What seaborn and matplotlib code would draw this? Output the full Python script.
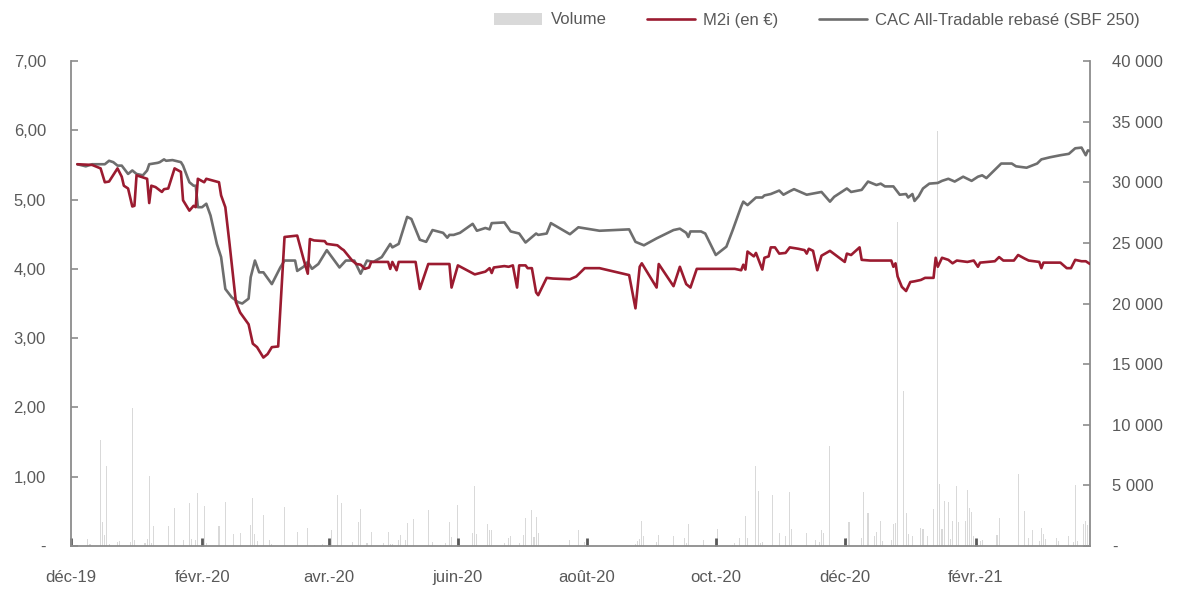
import matplotlib
matplotlib.use('Agg')
import matplotlib.pyplot as plt
from matplotlib.lines import Line2D
from matplotlib.patches import Patch
from matplotlib import font_manager
import pandas as pd
import seaborn as sns

# ---------------- data ----------------
m2i_dates = [
    "2019-12-04", "2019-12-11", "2019-12-15", "2019-12-17", "2019-12-19", "2019-12-23", "2019-12-25",
    "2019-12-26", "2019-12-28", "2019-12-30", "2019-12-31", "2020-01-01", "2020-01-03", "2020-01-06",
    "2020-01-07", "2020-01-08", "2020-01-10", "2020-01-13", "2020-01-14", "2020-01-16", "2020-01-19",
    "2020-01-22", "2020-01-23", "2020-01-26", "2020-01-28", "2020-01-29", "2020-01-30", "2020-02-02",
    "2020-02-03", "2020-02-09", "2020-02-10", "2020-02-12", "2020-02-14", "2020-02-17", "2020-02-19",
    "2020-02-23", "2020-02-25", "2020-02-27", "2020-03-01", "2020-03-03", "2020-03-05", "2020-03-08",
    "2020-03-10", "2020-03-11", "2020-03-17", "2020-03-20", "2020-03-22", "2020-03-23", "2020-03-25",
    "2020-03-30", "2020-03-31", "2020-04-05", "2020-04-07", "2020-04-08", "2020-04-12", "2020-04-14",
    "2020-04-16", "2020-04-18", "2020-04-20", "2020-04-21", "2020-04-29", "2020-04-30", "2020-05-01",
    "2020-05-03", "2020-05-04", "2020-05-12", "2020-05-14", "2020-05-18", "2020-05-28", "2020-05-29",
    "2020-06-01", "2020-06-09", "2020-06-14", "2020-06-16", "2020-06-17", "2020-06-18", "2020-06-23",
    "2020-06-25", "2020-06-27", "2020-06-29", "2020-06-30", "2020-07-03", "2020-07-04", "2020-07-06",
    "2020-07-08", "2020-07-09", "2020-07-13", "2020-07-16", "2020-07-24", "2020-07-27", "2020-07-31",
    "2020-08-07", "2020-08-21", "2020-08-24", "2020-08-26", "2020-08-27", "2020-09-03", "2020-09-04",
    "2020-09-11", "2020-09-14", "2020-09-17", "2020-09-19", "2020-09-22", "2020-10-10", "2020-10-13",
    "2020-10-14", "2020-10-15", "2020-10-16", "2020-10-19", "2020-10-20", "2020-10-23", "2020-10-24",
    "2020-10-26", "2020-10-27", "2020-10-29", "2020-10-31", "2020-11-03", "2020-11-05", "2020-11-09",
    "2020-11-12", "2020-11-13", "2020-11-14", "2020-11-16", "2020-11-18", "2020-11-20", "2020-11-24",
    "2020-12-01", "2020-12-02", "2020-12-04", "2020-12-08", "2020-12-09", "2020-12-13", "2020-12-23",
    "2020-12-24", "2020-12-25", "2020-12-26", "2020-12-28", "2020-12-30", "2021-01-01", "2021-01-03",
    "2021-01-06", "2021-01-08", "2021-01-12", "2021-01-13", "2021-01-14", "2021-01-16", "2021-01-19",
    "2021-01-21", "2021-01-23", "2021-01-28", "2021-01-31", "2021-02-02", "2021-02-03", "2021-02-10",
    "2021-02-12", "2021-02-14", "2021-02-19", "2021-02-21", "2021-02-24", "2021-02-26", "2021-03-03",
    "2021-03-04", "2021-03-05", "2021-03-13", "2021-03-16", "2021-03-18", "2021-03-20", "2021-03-23",
    "2021-03-25", "2021-03-27",
]
m2i_values = [
    5.51, 5.50, 5.45, 5.25, 5.26, 5.45, 5.33,
    5.20, 5.16, 4.90, 4.91, 5.35, 5.33, 5.30,
    4.95, 5.20, 5.18, 5.11, 5.15, 5.16, 5.45,
    5.40, 4.99, 4.84, 4.91, 4.89, 5.30, 5.25,
    5.30, 5.25, 5.06, 4.89, 4.36, 3.52, 3.37,
    3.20, 2.92, 2.87, 2.72, 2.77, 2.87, 2.88,
    3.93, 4.46, 4.48, 4.14, 3.93, 4.43, 4.41,
    4.40, 4.36, 4.34, 4.29, 4.27, 4.12, 4.07,
    4.06, 4.00, 4.02, 4.10, 4.10, 4.00, 4.10,
    3.98, 4.10, 4.10, 3.71, 4.07, 4.07, 3.73,
    4.05, 3.92, 3.96, 4.01, 3.94, 4.02, 4.04,
    4.03, 4.05, 3.73, 4.05, 4.05, 4.01, 4.01,
    3.66, 3.62, 3.87, 3.86, 3.85, 3.89, 4.01,
    4.01, 3.91, 3.43, 4.03, 4.08, 3.73, 4.07,
    3.75, 4.03, 3.78, 3.73, 4.00, 4.00, 3.98,
    4.06, 3.99, 4.25, 4.18, 4.23, 3.99, 4.16,
    4.18, 4.31, 4.31, 4.22, 4.23, 4.31, 4.29,
    4.27, 4.22, 4.29, 4.26, 3.98, 4.19, 4.26,
    4.10, 4.22, 4.20, 4.31, 4.13, 4.12, 4.12,
    4.03, 4.08, 3.89, 3.74, 3.68, 3.81, 3.82,
    3.84, 3.87, 3.87, 4.16, 4.03, 4.16, 4.13,
    4.08, 4.12, 4.10, 4.12, 4.03, 4.09, 4.11,
    4.17, 4.12, 4.12, 4.20, 4.15, 4.12, 4.10,
    4.01, 4.09, 4.09, 4.01, 4.01, 4.13, 4.11,
    4.11, 4.07,
]

cac_dates = [
    "2019-12-04", "2019-12-08", "2019-12-11", "2019-12-17", "2019-12-19", "2019-12-21", "2019-12-23",
    "2019-12-25", "2019-12-28", "2019-12-30", "2020-01-01", "2020-01-04", "2020-01-06", "2020-01-07",
    "2020-01-11", "2020-01-12", "2020-01-14", "2020-01-15", "2020-01-18", "2020-01-22", "2020-01-23",
    "2020-01-26", "2020-01-28", "2020-01-29", "2020-01-30", "2020-02-01", "2020-02-03", "2020-02-05",
    "2020-02-08", "2020-02-10", "2020-02-12", "2020-02-15", "2020-02-18", "2020-02-20", "2020-02-23",
    "2020-02-24", "2020-02-26", "2020-02-28", "2020-03-01", "2020-03-05", "2020-03-09", "2020-03-11",
    "2020-03-16", "2020-03-17", "2020-03-20", "2020-03-22", "2020-03-24", "2020-03-27", "2020-03-31",
    "2020-04-06", "2020-04-09", "2020-04-13", "2020-04-16", "2020-04-19", "2020-04-22", "2020-04-26",
    "2020-04-30", "2020-05-01", "2020-05-04", "2020-05-08", "2020-05-10", "2020-05-14", "2020-05-17",
    "2020-05-20", "2020-05-25", "2020-05-27", "2020-05-28", "2020-05-30", "2020-06-02", "2020-06-08",
    "2020-06-10", "2020-06-14", "2020-06-16", "2020-06-17", "2020-06-23", "2020-06-26", "2020-06-30",
    "2020-07-03", "2020-07-08", "2020-07-09", "2020-07-13", "2020-07-15", "2020-07-24", "2020-07-28",
    "2020-08-07", "2020-08-21", "2020-08-24", "2020-08-28", "2020-09-03", "2020-09-11", "2020-09-14",
    "2020-09-17", "2020-09-18", "2020-09-19", "2020-09-24", "2020-09-26", "2020-10-01", "2020-10-06",
    "2020-10-09", "2020-10-13", "2020-10-14", "2020-10-16", "2020-10-20", "2020-10-23", "2020-10-24",
    "2020-10-27", "2020-10-31", "2020-11-02", "2020-11-05", "2020-11-07", "2020-11-13", "2020-11-20",
    "2020-11-24", "2020-11-26", "2020-12-02", "2020-12-04", "2020-12-09", "2020-12-12", "2020-12-16",
    "2020-12-18", "2020-12-20", "2020-12-24", "2020-12-27", "2020-12-30", "2020-12-31", "2021-01-02",
    "2021-01-03", "2021-01-05", "2021-01-07", "2021-01-10", "2021-01-14", "2021-01-16", "2021-01-19",
    "2021-01-22", "2021-01-26", "2021-01-30", "2021-02-02", "2021-02-04", "2021-02-06", "2021-02-10",
    "2021-02-13", "2021-02-18", "2021-02-20", "2021-02-25", "2021-03-02", "2021-03-04", "2021-03-08",
    "2021-03-13", "2021-03-17", "2021-03-20", "2021-03-23", "2021-03-25", "2021-03-26", "2021-03-27",
]
cac_values = [
    5.51, 5.48, 5.51, 5.51, 5.56, 5.54, 5.49,
    5.49, 5.37, 5.42, 5.37, 5.35, 5.42, 5.51,
    5.53, 5.54, 5.58, 5.56, 5.57, 5.54, 5.49,
    5.25, 5.20, 5.20, 4.89, 4.89, 4.94, 4.77,
    4.36, 4.17, 3.71, 3.59, 3.52, 3.50, 3.57,
    3.88, 4.12, 3.95, 3.95, 3.78, 4.02, 4.12,
    4.12, 3.97, 4.03, 4.10, 4.00, 4.07, 4.27,
    4.02, 4.12, 4.12, 3.93, 4.12, 4.10, 4.17,
    4.36, 4.31, 4.36, 4.75, 4.72, 4.42, 4.39,
    4.56, 4.52, 4.45, 4.49, 4.49, 4.52, 4.65,
    4.55, 4.59, 4.57, 4.66, 4.67, 4.54, 4.51,
    4.38, 4.51, 4.49, 4.51, 4.66, 4.50, 4.60,
    4.55, 4.57, 4.39, 4.34, 4.44, 4.56, 4.58,
    4.52, 4.46, 4.54, 4.54, 4.51, 4.20, 4.32,
    4.56, 4.90, 4.97, 4.92, 5.03, 5.03, 5.06,
    5.08, 5.13, 5.07, 5.12, 5.15, 5.07, 5.11,
    4.97, 5.04, 5.16, 5.11, 5.14, 5.26, 5.21,
    5.23, 5.19, 5.19, 5.07, 5.08, 5.03, 5.08,
    4.98, 5.05, 5.16, 5.23, 5.24, 5.27, 5.30,
    5.26, 5.33, 5.27, 5.33, 5.35, 5.31, 5.43,
    5.52, 5.52, 5.48, 5.46, 5.52, 5.58, 5.61,
    5.64, 5.66, 5.74, 5.75, 5.64, 5.71, 5.70,
]

vol_dates = [
    "2019-12-09", "2019-12-10", "2019-12-15", "2019-12-16", "2019-12-17", "2019-12-18", "2019-12-19",
    "2019-12-23", "2019-12-24", "2019-12-29", "2019-12-30", "2019-12-31", "2020-01-05", "2020-01-06",
    "2020-01-07", "2020-01-08", "2020-01-09", "2020-01-16", "2020-01-19", "2020-01-23", "2020-01-26",
    "2020-01-27", "2020-01-29", "2020-01-30", "2020-02-02", "2020-02-03", "2020-02-09", "2020-02-12",
    "2020-02-16", "2020-02-19", "2020-02-24", "2020-02-25", "2020-02-26", "2020-02-27", "2020-03-01",
    "2020-03-04", "2020-03-05", "2020-03-11", "2020-03-17", "2020-03-22", "2020-03-25", "2020-03-29",
    "2020-04-02", "2020-04-05", "2020-04-07", "2020-04-12", "2020-04-15", "2020-04-16", "2020-04-19",
    "2020-04-21", "2020-04-27", "2020-04-29", "2020-04-30", "2020-05-01", "2020-05-04", "2020-05-05",
    "2020-05-07", "2020-05-08", "2020-05-11", "2020-05-18", "2020-05-20", "2020-05-24", "2020-05-26",
    "2020-05-28", "2020-05-29", "2020-06-01", "2020-06-08", "2020-06-09", "2020-06-10", "2020-06-15",
    "2020-06-16", "2020-06-17", "2020-06-23", "2020-06-25", "2020-06-26", "2020-06-30", "2020-07-02",
    "2020-07-03", "2020-07-06", "2020-07-07", "2020-07-08", "2020-07-09", "2020-07-14", "2020-07-19",
    "2020-07-24", "2020-07-28", "2020-07-31", "2020-08-24", "2020-08-25", "2020-08-26", "2020-08-27",
    "2020-08-28", "2020-09-03", "2020-09-04", "2020-09-11", "2020-09-16", "2020-09-17", "2020-09-18",
    "2020-09-25", "2020-10-02", "2020-10-09", "2020-10-10", "2020-10-12", "2020-10-15", "2020-10-16",
    "2020-10-20", "2020-10-21", "2020-10-22", "2020-10-23", "2020-10-28", "2020-10-31", "2020-11-03",
    "2020-11-05", "2020-11-06", "2020-11-13", "2020-11-17", "2020-11-19", "2020-11-20", "2020-11-21",
    "2020-11-24", "2020-12-01", "2020-12-02", "2020-12-03", "2020-12-09", "2020-12-10", "2020-12-12",
    "2020-12-15", "2020-12-16", "2020-12-18", "2020-12-19", "2020-12-23", "2020-12-24", "2020-12-25",
    "2020-12-26", "2020-12-29", "2020-12-30", "2020-12-31", "2021-01-02", "2021-01-06", "2021-01-07",
    "2021-01-09", "2021-01-12", "2021-01-14", "2021-01-15", "2021-01-16", "2021-01-17", "2021-01-19",
    "2021-01-20", "2021-01-21", "2021-01-23", "2021-01-24", "2021-01-27", "2021-01-28", "2021-01-29",
    "2021-01-30", "2021-01-31", "2021-02-02", "2021-02-03", "2021-02-04", "2021-02-11", "2021-02-12",
    "2021-02-21", "2021-02-24", "2021-02-26", "2021-02-28", "2021-03-03", "2021-03-04", "2021-03-05",
    "2021-03-06", "2021-03-11", "2021-03-12", "2021-03-17", "2021-03-19", "2021-03-20", "2021-03-21",
    "2021-03-24", "2021-03-25", "2021-03-26", "2021-03-27",
]
vol_values = [
    550, 150, 8740, 1980, 880, 6600, 150,
    360, 385, 330, 11380, 495, 275, 550,
    5770, 250, 1650, 1650, 3130, 495, 3550,
    550, 495, 4340, 3270, 250, 1650, 3630,
    960, 1045, 1760, 3960, 1020, 410, 2560,
    495, 180, 3220, 1180, 1480, 100, 150,
    1290, 4200, 3550, 360, 1980, 3050, 250,
    1150, 250, 1180, 200, 150, 495, 905,
    495, 1920, 2230, 2940, 360, 100, 220,
    1980, 740, 3380, 1070, 4950, 990, 1790,
    1320, 1290, 250, 690, 800, 250, 935,
    2280, 2970, 740, 2360, 1070, 100, 100,
    495, 1350, 330, 165, 385, 550, 2060,
    825, 360, 905, 825, 660, 250, 1840,
    495, 1375, 110, 220, 690, 2470, 660,
    6600, 4540, 275, 360, 4230, 1045, 825,
    4430, 1430, 1070, 470, 330, 1320, 1100,
    8250, 275, 690, 1980, 690, 4480, 2760,
    830, 1160, 2080, 400, 500, 1800, 1860,
    26700, 12750, 2720, 970, 830, 1520, 1440,
    830, 3050, 34200, 5130, 1440, 3740, 3660,
    600, 2080, 4930, 2000, 2080, 4650, 3100,
    2770, 830, 220, 400, 500, 910, 2300,
    5960, 2910, 700, 1330, 400, 1520, 970,
    550, 700, 400, 830, 300, 4990, 400,
    1800, 2080, 1720, 250,
]

x_tick_dates = ["2019-12-01", "2020-02-01", "2020-04-01", "2020-06-01",
                "2020-08-01", "2020-10-01", "2020-12-01", "2021-02-01"]
x_tick_labels = ["déc-19", "févr.-20", "avr.-20", "juin-20",
                 "août-20", "oct.-20", "déc-20", "févr.-21"]
left_ticks = [0, 1, 2, 3, 4, 5, 6, 7]
left_labels = ["-", "1,00", "2,00", "3,00", "4,00", "5,00", "6,00", "7,00"]
right_ticks = [0, 5000, 10000, 15000, 20000, 25000, 30000, 35000, 40000]
right_labels = ["-", "5 000", "10 000", "15 000", "20 000", "25 000", "30 000", "35 000", "40 000"]
series_names = ["Volume", "M2i (en €)", "CAC All-Tradable rebasé (SBF 250)"]

# ---------------- style ----------------
sns.set_theme(style="white")
avail = {f.name for f in font_manager.fontManager.ttflist}
if "Liberation Sans Narrow" in avail:
    fam, fs = "Liberation Sans Narrow", 14
else:
    fam, fs = "Liberation Sans", 12
plt.rcParams["font.family"] = [fam, "DejaVu Sans"]

TEXT = "#595959"
AXIS = "#8c8c8c"
RED = "#9b1b30"
GREY = "#6e6e6e"
VOLC = "#d9d9d9"

m2i = pd.DataFrame({"date": pd.to_datetime(m2i_dates), "value": m2i_values})
cac = pd.DataFrame({"date": pd.to_datetime(cac_dates), "value": cac_values})
vol = pd.DataFrame({"date": pd.to_datetime(vol_dates), "value": vol_values})

W, H = 1180, 592
fig = plt.figure(figsize=(W / 100, H / 100), dpi=100)
fig.patch.set_facecolor("white")
L, R, T, B = 71, 1090, 61, 546
ax = fig.add_axes([L / W, 1 - B / H, (R - L) / W, (B - T) / H])
ax_vol = ax.twinx()

# volume bars (right axis), drawn beneath the lines
ax_vol.bar(vol["date"], vol["value"], width=0.5, color=VOLC, linewidth=0, zorder=1)
ax_vol.set_ylim(0, 40000)
ax_vol.set_yticks(right_ticks)
ax_vol.set_yticklabels(right_labels)

ax.set_zorder(ax_vol.get_zorder() + 1)
ax.patch.set_visible(False)

sns.lineplot(data=cac, x="date", y="value", ax=ax, color=GREY, linewidth=1.9, zorder=3)
sns.lineplot(data=m2i, x="date", y="value", ax=ax, color=RED, linewidth=1.9, zorder=4)

ax.set_xlim(pd.Timestamp("2019-12-01"), pd.Timestamp("2021-03-27"))
ax.set_ylim(0, 7)
ax.set_yticks(left_ticks)
ax.set_yticklabels(left_labels)
ax.set_xticks(pd.to_datetime(x_tick_dates))
ax.set_xticklabels(x_tick_labels)
ax.set_xlabel("")
ax.set_ylabel("")
ax_vol.set_ylabel("")
ax.grid(False)
ax_vol.grid(False)

for a in (ax, ax_vol):
    for s in a.spines.values():
        s.set_visible(False)
ax.spines["left"].set_visible(True)
ax.spines["bottom"].set_visible(True)
ax_vol.spines["right"].set_visible(True)
for s in (ax.spines["left"], ax.spines["bottom"], ax_vol.spines["right"]):
    s.set_color(AXIS)
    s.set_linewidth(1.3)

ax.tick_params(axis="y", direction="in", length=5, width=1.2, color=AXIS,
               pad=18, labelsize=fs, labelcolor=TEXT, left=True)
ax_vol.tick_params(axis="y", direction="in", length=5, width=1.2, color=AXIS,
                   pad=16, labelsize=fs, labelcolor=TEXT, right=True)
ax.tick_params(axis="x", direction="in", length=6, width=2, color="#595959",
               pad=17, labelsize=fs, labelcolor=TEXT, bottom=True)

handles = [
    Patch(facecolor=VOLC, edgecolor="none"),
    Line2D([0], [0], color=RED, linewidth=1.9),
    Line2D([0], [0], color=GREY, linewidth=1.9),
]
fig.legend(handles, series_names, loc="center right",
           bbox_to_anchor=(1140 / W, 1 - 20 / H), ncol=3, frameon=False,
           fontsize=fs, labelcolor=TEXT, handlelength=2.9, handleheight=0.75,
           handletextpad=0.5, columnspacing=2.4, borderaxespad=0, borderpad=0)

fig.savefig("out.png", dpi=100, facecolor="white")
